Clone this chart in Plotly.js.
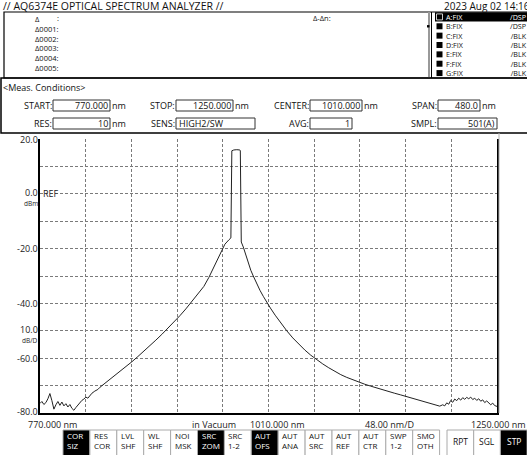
<!DOCTYPE html>
<html><head><meta charset="utf-8">
<script src="https://cdn.plot.ly/plotly-3.0.1.min.js"></script>
<style>html,body{margin:0;padding:0;background:#fff;overflow:hidden}#chart{width:527px;height:455px}</style>
</head><body><div id="chart"></div>
<script>
// ---- data ----
const wavelengthNm = [
 770.0,772.0,774.1,776.2,778.3,780.4,782.5,784.6,786.7,788.8,790.9,793.0,795.1,797.2,799.3,801.4,803.5,805.6,807.7,809.8,
 811.9,814.0,816.1,818.2,820.3,822.4,824.5,827.6,830.8,
 833.0,838.2,843.4,848.7,853.9,860.2,866.5,872.8,879.1,885.4,891.7,898.0,904.3,910.6,916.9,923.2,929.5,935.8,942.1,947.4,
 951.6,955.8,960.0,964.2,968.4,970.5,
 971.5,973.6,976.7,979.9,980.4,
 981.4,983.5,986.2,988.8,991.4,994.0,997.5,1001.0,1004.5,1008.0,1012.0,1017.0,1023.0,1029.2,1035.5,1041.8,1048.1,1054.4,
 1060.7,1067.0,1073.3,1079.6,1085.9,1092.2,1098.5,1104.8,1111.1,1117.4,1123.7,1130.0,1136.3,1142.6,1148.9,1155.2,1161.5,
 1167.8,1174.1,1180.4,1185.7,1189.9,
 1193.0,1195.1,1197.2,1199.3,1201.4,1203.5,1205.6,1207.7,1209.8,1211.9,1214.0,1216.1,1218.2,1220.3,1222.4,1224.5,1226.6,
 1228.7,1230.8,1232.9,1235.0,1237.1,1239.2,1241.3,1243.4,1245.5,1247.6,1250.0
];
const levelDbm = [
 -76.5,-75.8,-76.9,-76.2,-74.8,-72.9,-75.5,-78.6,-77.0,-75.8,-77.2,-76.0,-77.4,-76.6,-77.8,-76.9,-78.3,-79.0,-78.0,-77.1,
 -76.3,-75.4,-74.9,-74.2,-74.6,-73.6,-72.8,-72.0,-71.4,
 -70.6,-69.2,-67.8,-66.4,-64.9,-63.1,-61.3,-59.4,-57.5,-55.5,-53.4,-51.3,-49.1,-46.8,-44.5,-42.0,-39.4,-36.8,-33.8,-30.5,
 -27.6,-24.4,-21.4,-18.4,-16.8,-16.1,
 15.7,16.0,16.1,16.0,15.7,
 -17.6,-19.4,-22.5,-25.4,-27.9,-30.0,-32.8,-35.2,-37.4,-39.5,-41.7,-44.3,-47.2,-50.0,-52.6,-54.9,-57.0,-58.9,
 -60.6,-62.1,-63.5,-64.8,-66.0,-67.0,-67.9,-68.7,-69.5,-70.2,-70.9,-71.6,-72.2,-72.8,-73.4,-74.0,-74.6,
 -75.2,-75.8,-76.4,-77.0,-77.5,
 -77.0,-77.4,-76.3,-76.8,-75.4,-76.1,-74.9,-75.5,-74.6,-75.3,-74.4,-75.0,-74.3,-74.8,-74.2,-75.1,-74.6,
 -75.4,-74.8,-75.7,-75.2,-76.2,-75.6,-76.5,-77.0,-76.4,-77.3,-77.6
];
const yTickVals = [20,0,-20,-40,-60,-80];
const yTickText = ['20.0','0.0','-20.0','-40.0','-60.0','-80.0'];
const deltaRows = ['Δ','Δ0001:','Δ0002:','Δ0003:','Δ0004:','Δ0005:'];
const traceNames = ['A:FIX','B:FIX','C:FIX','D:FIX','E:FIX','F:FIX','G:FIX'];
const traceModes = ['/DSP','/DSP','/BLK','/BLK','/BLK','/BLK','/BLK'];
const condRow1 = [['START:','770.000','nm'],['STOP:','1250.000','nm'],['CENTER:','1010.000','nm'],['SPAN:','480.0','nm']];
const condRow2 = [['RES:','10','nm'],['SENS:','HIGH2/SW',''],['AVG:','1',''],['SMPL:','501(A)','']];
const softKeys = [['COR','SIZ'],['RES','COR'],['LVL','SHF'],['WL','SHF'],['NOI','MSK'],['SRC','ZOM'],['SRC','1-2'],
                  ['AUT','OFS'],['AUT','ANA'],['AUT','SRC'],['AUT','REF'],['AUT','CTR'],['SWP','1-2'],['SMO','OTH']];
const softKeyOn = [true,false,false,false,false,true,false,true,false,false,false,false,false,false];
const runKeys = ['RPT','SGL','STP'];
const runKeyOn = [false,false,true];

// ---- geometry helpers (page chrome only) ----
const W=527,H=455,M={l:40,r:30,t:139,b:42};
const PW=W-M.l-M.r, PH=H-M.t-M.b;
const PX=x=>(x-M.l)/PW, PY=y=>1-(y-M.t)/PH;
const F='Open Sans';
const ann=[], shp=[];
function T(text,x,y,o){o=o||{};ann.push({text:text,x:PX(x),y:PY(y),xref:'paper',yref:'paper',xanchor:o.a||'left',yanchor:'middle',
  align:o.a||'left',showarrow:false,borderpad:0,borderwidth:0,font:{family:F,size:o.s||9,color:o.c||'#111'}});}
function R(x0,y0,x1,y1,o){o=o||{};shp.push({type:'rect',xref:'paper',yref:'paper',x0:PX(x0),x1:PX(x1),y0:PY(y0),y1:PY(y1),
  line:{color:o.lc||'#000',width:o.lw===undefined?1:o.lw},fillcolor:o.fc||'rgba(0,0,0,0)',layer:'above'});}
function L(x0,y0,x1,y1,c,w){shp.push({type:'line',xref:'paper',yref:'paper',x0:PX(x0),x1:PX(x1),y0:PY(y0),y1:PY(y1),line:{color:c,width:w},layer:'above'});}

// title + date
T('// AQ6374E OPTICAL SPECTRUM ANALYZER //',3,6,{s:10.5});
T('2023 Aug 02 14:16',530,5.5,{s:10,a:'right'});
// header box
R(4,12,535,78,{lw:1.2});
T(deltaRows.join('<br>'),35,43,{s:7.5});
T(':',57,18.4,{s:7.5});
T('Δ-Δn:',313,18.4,{s:7.5});
// trace legend
L(429,12,429,78,'#999',2); L(431.5,12,431.5,78,'#000',1);
const rowH=7.2*1.3, row0=45-3*rowH;
R(435,row0-rowH/2,535,row0+rowH/2,{lw:0,fc:'#000'});
traceNames.forEach((t,i)=>{const yc=row0+i*rowH;
  R(436.5,yc-3,442.5,yc+3,{lw:i===0?0.8:0,lc:'#fff',fc:'#000'});});
const colorize=(arr)=>arr.map((t,i)=>i===0?'<span style="color:#fff">'+t+'</span>':t).join('<br>');
T(colorize(traceNames),446,45,{s:7.2});
T(colorize(traceModes),527,45,{s:7.2,a:'right'});
R(427,row0+rowH-1.2,429.5,row0+rowH+1.2,{lw:0,fc:'#000'});
// measurement conditions
R(1,78,535,133,{lw:1.5});
T('<Meas. Conditions>',3,87,{s:9});
const colX=[[52,53,110],[175,176,233],[309,310,362],[437,438,480]];
const colX2=[[52,53,110],[175,176,255],[309,310,352],[437,438,497]];
condRow1.forEach((c,i)=>{const [lx,b0,b1]=colX[i];
  T(c[0],lx,105.5,{s:9,a:'right'}); R(b0,100,b1,111,{lc:'#333',lw:1});
  T(c[1],b1-2,105.5,{s:9,a:'right'}); if(c[2]) T(c[2],b1+1.5,105.5,{s:9});});
condRow2.forEach((c,i)=>{const [lx,b0,b1]=colX2[i];
  T(c[0],lx,123.5,{s:9,a:'right'}); R(b0,118,b1,129,{lc:'#333',lw:1});
  if(i===1) T(c[1],b0+2.5,123.5,{s:9}); else T(c[1],b1-2,123.5,{s:9,a:'right'});
  if(c[2]) T(c[2],b1+1.5,123.5,{s:9});});
// y labels (data-anchored)
yTickVals.forEach((v,i)=>ann.push({text:yTickText[i],x:PX(38.5),xref:'paper',y:v+(v===0?0.6:(v===-80?0.7:0)),yref:'y',xanchor:'right',yanchor:'middle',
  showarrow:false,borderpad:0,font:{family:F,size:9,color:'#222'}}));
ann.push({text:'dBm',x:PX(38.5),xref:'paper',y:-3.4,yref:'y',xanchor:'right',yanchor:'middle',showarrow:false,borderpad:0,font:{family:F,size:6.5,color:'#222'}});
ann.push({text:'REF',x:PX(41.5),xref:'paper',y:0,yref:'y',xanchor:'left',yanchor:'middle',showarrow:false,borderpad:0,font:{family:F,size:9,color:'#222'}});
ann.push({text:'10.0',x:PX(38.5),xref:'paper',y:-49.4,yref:'y',xanchor:'right',yanchor:'middle',showarrow:false,borderpad:0,font:{family:F,size:9,color:'#222'}});
ann.push({text:'dB/D',x:PX(38.5),xref:'paper',y:-53.4,yref:'y',xanchor:'right',yanchor:'middle',showarrow:false,borderpad:0,font:{family:F,size:6.5,color:'#222'}});
// x labels
T('770.000 nm',28,424.5,{s:9,c:'#222'});
T('in Vacuum',192,424.5,{s:9,c:'#222'});
T('1010.000 nm',250,424.5,{s:9,c:'#222'});
T('48.00 nm/D',365,424.5,{s:9,c:'#222'});
T('1250.000 nm',526,424.5,{s:9,c:'#222',a:'right'});
// grey edge right of the plot frame
L(499,133,499,413,'#b0b0b0',1);
// soft keys (two-line labels as a single text each)
softKeys.forEach((k,i)=>{const x0=63+i*26.9,x1=x0+26.9,on=softKeyOn[i];
  R(x0,430,x1,460,{lc:'#aaa',lw:1,fc:on?'#000':'#fff'});
  T(k[0]+'<br>'+k[1],x0+4,440.5,{s:8,c:on?'#fff':'#111'});});
runKeys.forEach((k,i)=>{const x0=447+i*26.7,x1=x0+26.7,on=runKeyOn[i];
  R(x0,430,x1,460,{lc:'#aaa',lw:1,fc:on?'#000':'#fff'});
  T(k,(x0+x1)/2,441,{s:8.5,c:on?'#fff':'#111',a:'center'});});

const trace={x:wavelengthNm,y:levelDbm,type:'scatter',mode:'lines',line:{color:'#222',width:1},hoverinfo:'skip'};
const grid={showgrid:true,gridcolor:'#7a7a7a',gridwidth:1,griddash:'3px,2px',showticklabels:false,ticks:'',zeroline:false,
  showline:true,linecolor:'#000',linewidth:2,fixedrange:true};
const layout={width:W,height:H,margin:M,paper_bgcolor:'#fff',plot_bgcolor:'#fff',showlegend:false,
  xaxis:Object.assign({},grid,{range:[770,1250],tick0:770,dtick:48,mirror:false}),
  yaxis:Object.assign({},grid,{range:[-80,20],tick0:-80,dtick:10,mirror:true}),
  annotations:ann,shapes:shp};
Plotly.newPlot('chart',[trace],layout,{staticPlot:true,displayModeBar:false});
</script></body></html>
